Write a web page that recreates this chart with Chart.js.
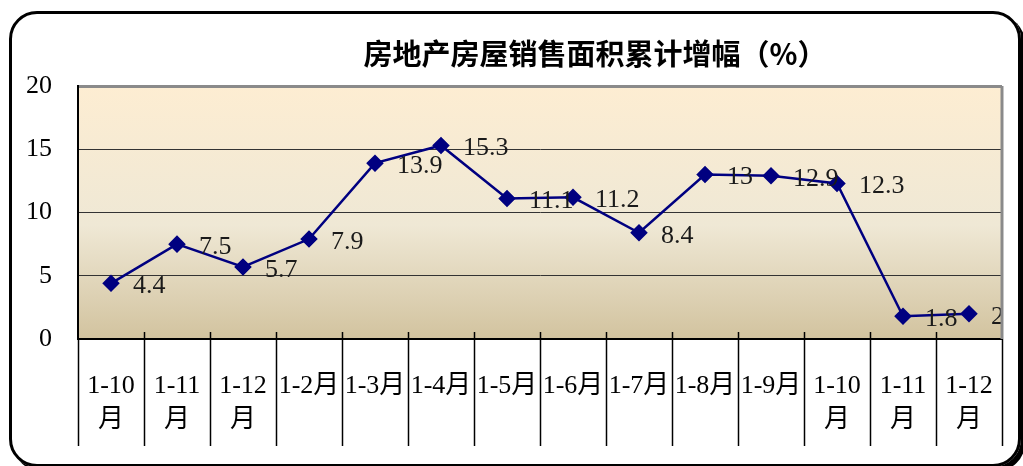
<!DOCTYPE html>
<html>
<head>
<meta charset="utf-8">
<script src="https://cdn.jsdelivr.net/npm/chart.js@4"></script>
<style>
  body { margin: 0; background: #fff; }
  #wrap { position: relative; width: 1023px; height: 466px; overflow: hidden; }
  #frame {
    position: absolute; left: 9px; top: 11px; width: 1006px; height: 450px;
    border: 3px solid #000; border-radius: 28px; box-shadow: 4px 4px 0 #000;
  }
  canvas { position: absolute; left: 0; top: 0; }
</style>
</head>
<body>
<div id="wrap">
  <div id="frame"></div>
  <canvas id="chart" width="1023" height="466"></canvas>
</div>
<script>
// categories (multi-line where the original wraps)
const months = [
  ["1-10", "月"], ["1-11", "月"], ["1-12", "月"],
  "1-2月", "1-3月", "1-4月", "1-5月", "1-6月", "1-7月", "1-8月", "1-9月",
  ["1-10", "月"], ["1-11", "月"], ["1-12", "月"]
];
// cumulative growth of floor space sold, %
const growth = [4.4, 7.5, 5.7, 7.9, 13.9, 15.3, 11.1, 11.2, 8.4, 13, 12.9, 12.3, 1.8, 2];
const titleText = "房地产房屋销售面积累计增幅（%）";
const yTicks = [0, 5, 10, 15, 20];

const serif = '"Liberation Serif", "Noto Sans CJK SC", serif';

// plot area background + right border
const bgPlugin = {
  id: "bg",
  beforeDraw(chart) {
    const { ctx, chartArea: a } = chart;
    const g = ctx.createLinearGradient(0, a.top, 0, a.bottom);
    g.addColorStop(0, "#fdedd2");
    g.addColorStop(0.55, "#efe8d5");
    g.addColorStop(1, "#d2c39f");
    ctx.save();
    ctx.fillStyle = g;
    ctx.fillRect(a.left, a.top, a.right - a.left, a.bottom - a.top);
    ctx.restore();
  },
  afterDraw(chart) {
    const { ctx, chartArea: a } = chart;
    ctx.save();
    ctx.strokeStyle = "#8a8a8a";
    ctx.lineWidth = 3;
    ctx.beginPath();
    ctx.moveTo(a.right, a.top);
    ctx.lineTo(a.right, a.bottom);
    ctx.stroke();
    // category divider lines under the axis (table look)
    const x = chart.scales.x;
    const n = months.length;
    const w = (a.right - a.left) / n;
    ctx.strokeStyle = "#000";
    ctx.lineWidth = 1.5;
    for (let i = 0; i <= n; i++) {
      const px = Math.round(x.left + i * w) + 0.5;
      const top = (i === 0 || i === n) ? a.bottom : a.bottom - 7;
      ctx.beginPath();
      ctx.moveTo(px, top);
      ctx.lineTo(px, 446);
      ctx.stroke();
    }
    // title
    ctx.fillStyle = "#000";
    ctx.font = 'bold 29px "Noto Sans CJK SC", sans-serif';
    ctx.textAlign = "center";
    ctx.textBaseline = "middle";
    ctx.fillText(titleText, 595, 54);
    ctx.restore();
  }
};

// value labels to the right of each point
const labelPlugin = {
  id: "valueLabels",
  afterDatasetsDraw(chart) {
    const { ctx } = chart;
    const meta = chart.getDatasetMeta(0);
    ctx.save();
    ctx.font = "26px " + serif;
    ctx.fillStyle = "#1a1a1a";
    ctx.textAlign = "left";
    ctx.textBaseline = "middle";
    meta.data.forEach((pt, i) => {
      ctx.fillText(String(growth[i]), pt.x + 22, pt.y + 3);
    });
    ctx.restore();
  }
};

new Chart(document.getElementById("chart"), {
  type: "line",
  data: {
    labels: months,
    datasets: [{
      data: growth,
      borderColor: "#000080",
      backgroundColor: "#000080",
      borderWidth: 2.5,
      pointStyle: "rectRot",
      pointRadius: 7,
      pointHoverRadius: 7,
      tension: 0
    }]
  },
  options: {
    responsive: false,
    animation: false,
    layout: { padding: { left: 0, right: 21, top: 86, bottom: 0 } },
    plugins: { legend: { display: false }, tooltip: { enabled: false }, title: { display: false } },
    scales: {
      x: {
        offset: true,
        grid: { display: false },
        border: { color: "#000", width: 2 },
        ticks: {
          color: "#000",
          maxRotation: 0,
          autoSkip: false,
          padding: 22,
          font: { family: serif, size: 26, lineHeight: 1.3 }
        },
        afterFit(s) { s.height = 127; }
      },
      y: {
        min: 0,
        max: 20,
        grid: {
          drawTicks: false,
          color: (c) => (c.tick && c.tick.value === 20 ? "#8a8a8a" : "#333"),
          lineWidth: (c) => (c.tick && c.tick.value === 20 ? 3 : 1)
        },
        border: { color: "#000", width: 2 },
        afterBuildTicks(s) { s.ticks = yTicks.map(v => ({ value: v })); },
        ticks: {
          color: "#000",
          padding: 26,
          font: { family: serif, size: 26 }
        },
        afterFit(s) { s.width = 78; }
      }
    }
  },
  plugins: [bgPlugin, labelPlugin]
});
</script>
</body>
</html>
